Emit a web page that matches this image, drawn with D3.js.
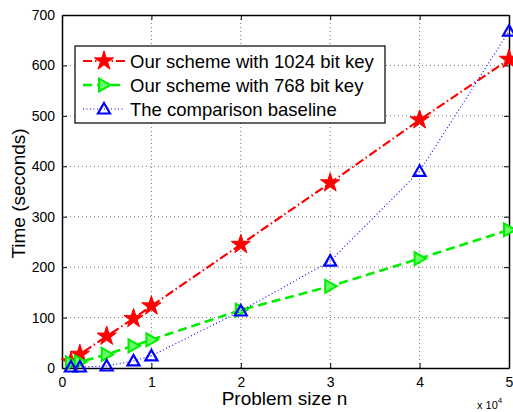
<!DOCTYPE html>
<html lang="en">
  <head>
    <meta charset="utf-8">
    <title>Time vs problem size</title>
    <script src="https://d3js.org/d3.v7.min.js"></script>
    <style>
      body { margin: 0; background: white; }
      text { font-family: "Liberation Sans", Arial, sans-serif; }
    </style>
  </head>
  <body>
    <script>
      // data (x in units of 10^4)
      var sizes = [0.1, 0.2, 0.5, 0.8, 1, 2, 3, 4, 5];
      var scheme1024 = [12, 27, 63, 98, 123, 245, 367, 492, 612];
      var scheme768 = [10, 12, 27, 44, 56, 115, 162, 217, 274];
      var baseline = [2, 2, 4, 14, 24, 113, 212, 390, 668];
      var seriesNames = ["Our scheme with 1024 bit key", "Our scheme with 768 bit key", "The comparison baseline"];
      var xTicks = [0, 1, 2, 3, 4, 5];
      var yTicks = [0, 100, 200, 300, 400, 500, 600, 700];

      var w = 513, h = 412;
      var margin = {top: 15, right: 4, bottom: 44, left: 62};
      var innerWidth = w - margin.left - margin.right;
      var innerHeight = h - margin.top - margin.bottom;

      var svg = d3.select("body").append("svg")
          .attr("width", w)
          .attr("height", h);

      var g = svg.append("g")
          .attr("transform", `translate(${margin.left},${margin.top})`);

      var x = d3.scaleLinear().domain([0, 5]).range([0, innerWidth]);
      var y = d3.scaleLinear().domain([0, 700]).range([innerHeight, 0]);

      // grid
      g.selectAll(".vgrid").data(xTicks.slice(1, -1)).enter().append("line")
          .attr("x1", d => x(d)).attr("x2", d => x(d))
          .attr("y1", 0).attr("y2", innerHeight)
          .attr("stroke", "#555").attr("stroke-width", 0.8)
          .attr("stroke-dasharray", "1,3");
      g.selectAll(".hgrid").data(yTicks.slice(1, -1)).enter().append("line")
          .attr("x1", 0).attr("x2", innerWidth)
          .attr("y1", d => y(d)).attr("y2", d => y(d))
          .attr("stroke", "#555").attr("stroke-width", 0.8)
          .attr("stroke-dasharray", "1,3");

      // axes (ticks inward, box)
      var xAxis = d3.axisBottom(x).tickValues(xTicks).tickFormat(d3.format("d"))
          .tickSizeInner(-5).tickSizeOuter(0).tickPadding(9);
      var yAxis = d3.axisLeft(y).tickValues(yTicks).tickFormat(d3.format("d"))
          .tickSizeInner(-5).tickSizeOuter(0).tickPadding(7);
      g.append("g").attr("transform", `translate(0,${innerHeight})`).call(xAxis);
      g.append("g").call(yAxis);
      var topAxis = g.append("g")
          .call(d3.axisTop(x).tickValues(xTicks).tickSizeInner(-5).tickSizeOuter(0));
      var rightAxis = g.append("g").attr("transform", `translate(${innerWidth},0)`)
          .call(d3.axisRight(y).tickValues(yTicks).tickSizeInner(-5).tickSizeOuter(0));
      topAxis.selectAll("text").remove();
      rightAxis.selectAll("text").remove();
      g.selectAll(".domain").attr("stroke", "#000").attr("stroke-width", 1.5);
      g.selectAll(".tick text").attr("font-size", 14).attr("fill", "#000")
          .style("font-family", "'Liberation Sans', Arial, sans-serif");

      // axis labels
      svg.append("text")
          .attr("x", margin.left + innerWidth / 2 - 1).attr("y", 405)
          .attr("text-anchor", "middle").attr("font-size", 19)
          .text("Problem size n");
      svg.append("text")
          .attr("transform", `translate(25,${margin.top + innerHeight / 2 + 2}) rotate(-90)`)
          .attr("text-anchor", "middle").attr("font-size", 19)
          .text("Time (seconds)");
      var mult = svg.append("text")
          .attr("x", 477).attr("y", 409).attr("font-size", 11);
      mult.append("tspan").text("x 10");
      mult.append("tspan").attr("dy", -6).attr("font-size", 8).text("4");

      var series = [
        {values: scheme1024, color: "#ff0000", dash: "9,3,1.5,3", width: 2.2, marker: "star"},
        {values: scheme768, color: "#00ee00", dash: "9,5", width: 2.6, marker: "tri-right"},
        {values: baseline, color: "#0000ff", dash: "1,2.5", width: 1.1, marker: "tri-up"}
      ];

      var line = d3.line().x(d => x(d[0])).y(d => y(d[1]));

      function drawMarker(sel, type, color) {
        if (type === "star") {
          sel.append("path")
              .attr("d", d3.symbol().type(d3.symbolStar).size(115)())
              .attr("fill", color).attr("stroke", color).attr("stroke-width", 1);
        } else if (type === "tri-right") {
          sel.append("path")
              .attr("d", "M-5,-6.5L6.5,0L-5,6.5Z")
              .attr("fill", "#66ff66").attr("stroke", color).attr("stroke-width", 2);
        } else {
          sel.append("path")
              .attr("d", "M0,-6L6,4.5L-6,4.5Z")
              .attr("fill", "none").attr("stroke", color).attr("stroke-width", 2.2);
        }
      }

      series.forEach(function (s) {
        var pts = sizes.map((v, i) => [v, s.values[i]]);
        g.append("path").datum(pts)
            .attr("d", line)
            .attr("fill", "none")
            .attr("stroke", s.color)
            .attr("stroke-width", s.width)
            .attr("stroke-dasharray", s.dash);
        g.selectAll(null).data(pts).enter().append("g")
            .attr("transform", d => `translate(${x(d[0])},${y(d[1])})`)
            .each(function () { drawMarker(d3.select(this), s.marker, s.color); });
      });

      // legend
      var legend = svg.append("g").attr("transform", "translate(75,46)");
      legend.append("rect")
          .attr("width", 310).attr("height", 77)
          .attr("fill", "white").attr("stroke", "#000").attr("stroke-width", 1.2);
      series.forEach(function (s, i) {
        var ly = 15 + i * 24;
        legend.append("line")
            .attr("x1", 8).attr("x2", 50).attr("y1", ly).attr("y2", ly)
            .attr("stroke", s.color).attr("stroke-width", s.width)
            .attr("stroke-dasharray", s.dash);
        var m = legend.append("g").attr("transform", `translate(29,${ly})`);
        drawMarker(m, s.marker, s.color);
        legend.append("text")
            .attr("x", 55).attr("y", ly + 6.5)
            .attr("font-size", 18.5)
            .text(seriesNames[i]);
      });
    </script>
  </body>
</html>
